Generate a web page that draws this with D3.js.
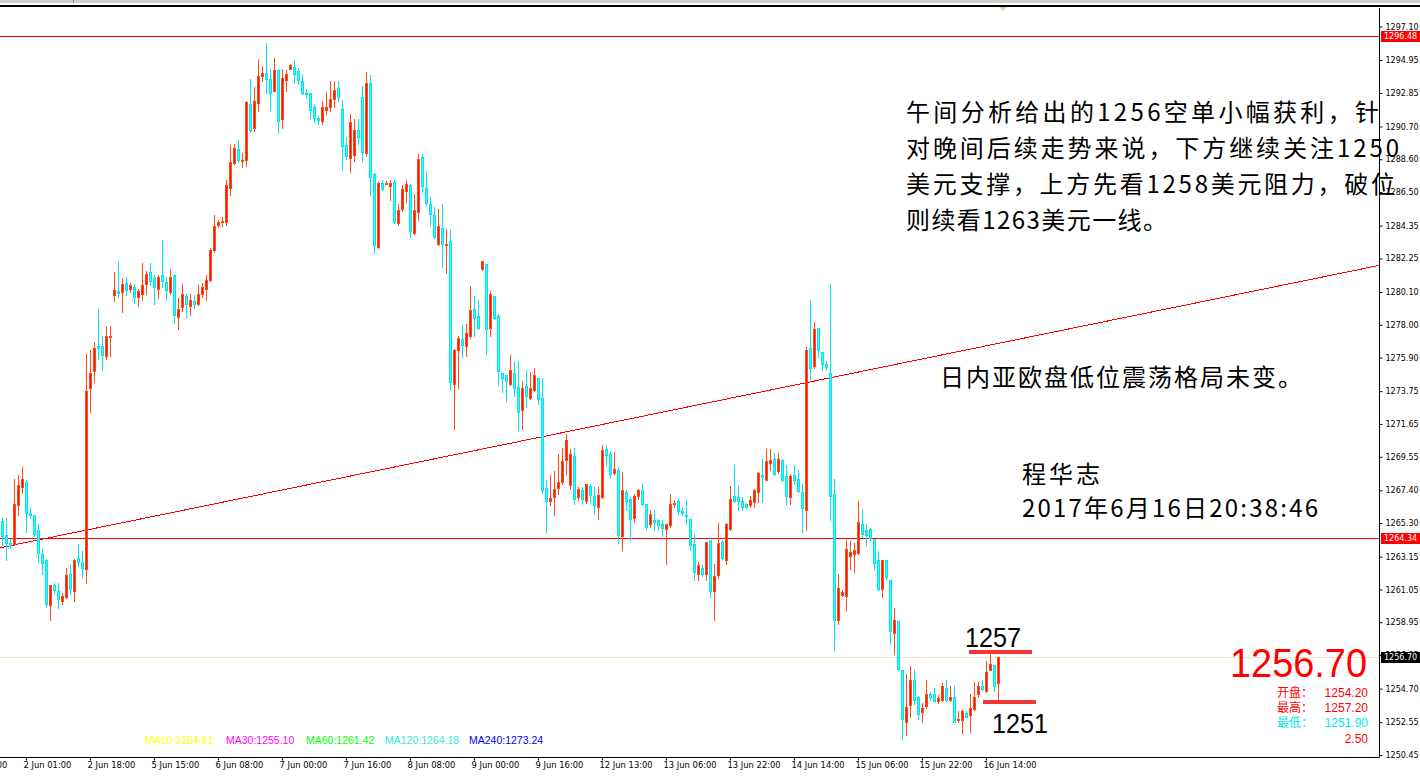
<!DOCTYPE html>
<html><head><meta charset="utf-8">
<script src="https://cdn.jsdelivr.net/npm/d3@7"></script>
<style>html,body{margin:0;padding:0;background:#fff;overflow:hidden}</style>
</head><body>
<svg id="c" width="1420" height="776"></svg>
<script>
// ---------- DATA (hourly XAUUSD bars) ----------
const opens = [
1265.41,1264.55,1264.00,1263.96,1266.47,1267.64,1267.93,1265.95,1265.80,1264.87,
1263.33,1262.91,1260.04,1261.32,1260.95,1260.34,1260.58,1262.05,1260.95,1263.08,
1262.78,1262.35,1273.94,1275.05,1276.64,1276.64,1276.02,1277.25,1279.90,1280.14,
1280.07,1280.68,1280.27,1280.44,1279.75,1280.00,1280.63,1281.37,1280.98,1280.32,
1281.17,1280.73,1280.07,1281.17,1278.48,1279.16,1279.83,1279.21,1279.55,1279.33,
1280.00,1280.32,1280.88,1282.77,1284.36,1284.60,1284.61,1286.76,1288.33,1289.26,
1288.50,1288.53,1292.13,1290.61,1292.21,1293.90,1294.12,1293.73,1292.99,1294.29,
1291.17,1293.68,1294.41,1294.49,1294.22,1293.63,1292.85,1292.82,1291.96,1291.27,
1291.03,1291.76,1291.96,1292.45,1293.14,1291.80,1289.50,1288.71,1288.90,1290.50,
1292.60,1289.00,1293.50,1287.64,1282.99,1287.09,1287.10,1286.90,1287.15,1284.52,
1285.44,1286.57,1286.94,1283.88,1285.23,1288.75,1286.79,1285.72,1285.01,1283.16,
1284.22,1283.09,1283.35,1274.19,1276.41,1277.07,1276.62,1277.26,1279.03,1278.54,
1281.55,1281.92,1277.82,1279.82,1278.54,1274.94,1274.76,1274.19,1274.94,1274.02,
1272.57,1274.06,1273.33,1273.80,1274.62,1273.33,1267.57,1266.71,1266.97,1267.55,
1267.93,1269.36,1267.76,1269.57,1266.97,1267.40,1266.71,1267.65,1267.01,1266.33,
1266.97,1270.04,1269.75,1268.50,1268.68,1264.45,1267.29,1266.86,1265.65,1267.01,
1267.44,1266.50,1265.26,1265.48,1265.48,1265.26,1264.90,1265.16,1266.50,1266.71,
1266.05,1265.84,1265.58,1263.98,1262.02,1262.44,1262.02,1264.24,1260.93,1261.95,
1264.09,1262.96,1264.94,1267.01,1266.97,1266.71,1266.50,1266.44,1266.65,1267.29,
1268.36,1268.08,1269.15,1269.42,1268.63,1269.36,1268.29,1266.97,1268.36,1268.14,
1267.29,1266.16,1276.54,1275.34,1277.82,1276.26,1275.50,1274.91,1267.18,1259.11,
1260.70,1260.60,1263.17,1263.34,1263.38,1265.26,1264.88,1264.94,1264.30,1262.91,
1261.09,1262.96,1261.67,1258.25,1259.03,1255.91,1252.56,1253.63,1255.27,1254.16,
1253.20,1253.56,1254.35,1254.33,1253.90,1253.95,1254.73,1253.99,1254.16,1252.66,
1252.71,1253.13,1252.98,1253.41,1254.37,1254.90,1254.54,1255.90,1256.19,1255.03];
const highs = [
1265.61,1265.61,1264.30,1268.13,1268.35,1268.87,1268.06,1266.30,1265.85,1265.24,
1263.65,1263.03,1261.36,1261.44,1261.49,1260.82,1262.42,1262.71,1262.98,1263.96,
1263.52,1276.15,1276.39,1276.88,1279.02,1277.25,1277.94,1277.94,1281.37,1282.03,
1280.98,1281.05,1280.68,1280.63,1280.32,1281.96,1281.42,1281.96,1281.17,1281.17,
1283.43,1281.05,1281.54,1281.22,1279.70,1280.63,1280.00,1279.95,1279.90,1280.56,
1280.68,1281.17,1282.90,1285.02,1284.68,1284.90,1287.25,1289.51,1289.56,1289.80,
1289.00,1292.33,1293.73,1293.24,1295.03,1294.60,1296.03,1294.41,1295.10,1294.41,
1294.41,1294.29,1294.71,1294.95,1294.46,1294.05,1293.10,1292.82,1292.13,1291.35,
1292.33,1292.89,1293.60,1293.60,1293.60,1292.40,1290.00,1291.50,1291.20,1291.20,
1293.30,1294.20,1294.00,1287.70,1287.15,1287.30,1287.20,1287.30,1287.26,1285.72,
1286.94,1287.30,1287.04,1286.40,1288.92,1288.92,1287.85,1286.19,1285.55,1285.44,
1285.76,1284.16,1284.09,1276.47,1277.26,1277.97,1278.03,1280.47,1279.83,1279.57,
1282.10,1281.92,1280.17,1279.82,1278.67,1274.94,1274.76,1276.04,1275.68,1275.68,
1274.40,1275.08,1274.98,1275.26,1274.62,1274.62,1268.08,1268.36,1268.63,1269.75,
1270.13,1271.03,1270.06,1270.13,1267.61,1267.61,1267.82,1267.78,1267.61,1267.61,
1270.28,1270.28,1269.85,1269.85,1268.89,1268.57,1267.44,1266.97,1267.14,1267.50,
1267.78,1266.54,1266.12,1266.16,1265.58,1265.48,1265.26,1267.14,1266.75,1266.86,
1266.30,1266.76,1265.58,1264.62,1262.80,1262.60,1264.09,1264.24,1262.70,1265.30,
1264.20,1265.30,1267.65,1269.00,1267.65,1266.97,1266.60,1267.01,1267.50,1268.57,
1269.42,1270.07,1270.07,1269.79,1269.79,1269.42,1268.99,1268.46,1268.99,1268.68,
1267.82,1276.58,1279.57,1278.18,1277.82,1276.26,1275.70,1280.64,1268.14,1262.06,
1261.00,1264.19,1264.15,1264.02,1266.71,1266.16,1265.26,1265.00,1264.30,1263.51,
1262.91,1262.96,1261.67,1259.88,1259.03,1255.91,1255.61,1256.12,1255.87,1254.20,
1253.78,1255.27,1254.50,1254.75,1254.30,1255.05,1255.23,1254.84,1254.84,1253.26,
1253.30,1253.26,1254.37,1255.12,1255.12,1255.27,1256.46,1257.14,1256.19,1256.75];
const lows = [
1263.89,1262.91,1263.70,1263.89,1265.85,1267.25,1264.75,1265.60,1264.50,1262.84,
1262.05,1259.97,1259.11,1260.82,1259.85,1260.14,1260.53,1260.78,1260.34,1262.54,
1261.86,1261.44,1272.42,1274.31,1275.78,1275.10,1275.78,1275.98,1279.50,1279.75,
1278.80,1279.90,1280.07,1279.41,1279.21,1279.58,1280.00,1280.56,1279.33,1279.70,
1280.44,1279.58,1279.95,1278.11,1277.74,1278.85,1278.48,1278.60,1279.10,1279.26,
1279.75,1279.58,1280.81,1282.69,1284.24,1284.30,1284.36,1286.32,1288.28,1288.41,
1288.10,1288.16,1290.37,1290.44,1291.67,1293.60,1292.82,1291.76,1292.94,1290.29,
1290.61,1292.94,1294.36,1293.48,1293.43,1292.75,1292.50,1291.27,1290.98,1290.83,
1290.86,1291.52,1291.71,1291.96,1292.33,1287.96,1288.60,1287.79,1288.50,1289.60,
1288.50,1288.80,1286.30,1282.60,1282.94,1286.60,1287.00,1285.97,1284.52,1284.37,
1285.29,1285.87,1283.63,1283.84,1284.69,1286.50,1285.65,1284.37,1283.58,1283.09,
1281.70,1281.32,1273.80,1271.35,1273.97,1275.94,1275.98,1277.18,1277.26,1277.75,
1281.50,1276.11,1277.26,1278.40,1274.12,1273.70,1273.12,1274.12,1273.42,1271.29,
1271.35,1272.73,1273.27,1273.76,1272.91,1267.23,1264.67,1266.44,1265.80,1267.18,
1267.82,1268.46,1267.50,1266.54,1266.76,1266.50,1266.58,1266.50,1265.90,1265.58,
1266.93,1269.00,1268.21,1268.46,1264.02,1263.59,1266.12,1264.19,1265.37,1266.86,
1266.44,1264.94,1265.05,1264.84,1264.88,1264.45,1262.70,1265.05,1266.30,1265.90,
1265.80,1265.26,1263.55,1261.63,1261.63,1261.90,1261.63,1260.56,1259.07,1261.80,
1263.00,1262.70,1264.84,1266.65,1266.16,1266.12,1266.25,1266.33,1266.33,1266.65,
1266.65,1268.08,1268.68,1268.36,1268.50,1267.99,1266.50,1266.50,1267.82,1267.29,
1264.73,1264.83,1274.55,1275.25,1275.94,1275.08,1275.10,1265.48,1257.19,1258.85,
1260.60,1259.71,1262.38,1262.17,1263.34,1264.41,1263.87,1264.20,1262.38,1260.99,
1260.56,1261.74,1257.53,1256.93,1255.87,1251.49,1251.74,1252.88,1253.73,1252.77,
1252.54,1253.48,1254.00,1253.84,1253.80,1253.90,1253.90,1253.90,1252.56,1252.56,
1251.86,1252.88,1251.92,1253.35,1254.16,1254.63,1254.48,1255.87,1254.58,1253.83];
const closes = [
1264.50,1264.00,1263.90,1266.54,1267.76,1268.10,1265.97,1265.85,1264.63,1263.40,
1262.74,1260.14,1261.32,1261.02,1260.46,1260.63,1262.00,1261.07,1262.96,1262.84,
1262.42,1273.75,1274.92,1276.52,1276.52,1276.07,1277.30,1277.30,1280.24,1280.04,
1280.63,1280.24,1280.54,1279.75,1280.14,1280.56,1281.25,1280.81,1280.44,1281.05,
1280.81,1280.24,1281.05,1278.60,1279.02,1279.95,1279.33,1279.58,1279.35,1279.95,
1280.44,1280.88,1282.77,1284.31,1284.61,1284.65,1286.93,1288.41,1289.31,1288.53,
1288.55,1292.25,1290.49,1292.33,1293.92,1294.10,1293.75,1292.82,1294.29,1291.03,
1293.80,1294.05,1294.66,1294.05,1293.68,1292.82,1292.80,1291.76,1291.22,1291.10,
1291.96,1291.96,1292.45,1293.06,1292.57,1289.43,1288.80,1291.00,1290.50,1290.00,
1289.07,1293.50,1287.47,1283.09,1287.09,1286.72,1287.10,1287.09,1284.59,1285.33,
1286.72,1287.04,1284.01,1285.33,1288.60,1286.89,1285.80,1285.12,1283.63,1284.31,
1283.20,1283.20,1274.34,1276.41,1277.15,1276.73,1277.48,1278.93,1278.46,1277.80,
1282.07,1277.75,1279.95,1278.46,1275.04,1274.62,1274.40,1275.08,1273.97,1272.42,
1273.97,1273.42,1273.97,1274.76,1273.27,1267.44,1266.69,1266.90,1267.46,1267.93,
1269.25,1270.60,1269.70,1266.86,1267.46,1266.82,1267.78,1267.08,1266.48,1267.08,
1269.96,1269.64,1268.46,1268.78,1264.52,1267.40,1266.71,1265.58,1267.01,1267.40,
1266.54,1265.05,1265.86,1265.37,1265.16,1265.01,1265.26,1266.54,1266.60,1266.07,
1265.95,1265.73,1263.87,1262.17,1262.59,1262.02,1264.09,1260.93,1261.89,1264.02,
1263.08,1265.22,1266.86,1266.71,1266.71,1266.33,1266.33,1266.76,1267.44,1268.50,
1268.25,1269.28,1269.36,1268.46,1269.42,1268.08,1267.01,1268.29,1268.04,1267.35,
1266.29,1276.41,1275.25,1277.75,1276.37,1275.47,1275.30,1267.01,1259.11,1261.16,
1260.90,1263.66,1263.45,1263.60,1265.37,1264.62,1264.52,1264.36,1262.74,1261.09,
1262.91,1261.84,1258.38,1259.11,1255.97,1252.77,1253.52,1255.23,1253.99,1253.09,
1253.48,1254.33,1254.15,1253.90,1254.10,1254.84,1253.95,1254.16,1252.56,1252.77,
1253.26,1252.88,1253.48,1254.16,1254.84,1254.69,1255.76,1256.29,1254.90,1256.70];

const priceTicks = [1297.10,1294.95,1292.85,1290.70,1288.60,1286.50,1284.35,1282.25,1280.10,1278.00,
  1275.90,1273.75,1271.65,1269.55,1267.40,1265.30,1263.15,1261.05,1258.95,1256.85,1254.70,1252.55,1250.45];
const timeTickBars = [-10,6,22,38,54,70,86,102,118,134,150,166,182,198,214,230,246];
const timeTickLabels = ["1 Jun 09:00","2 Jun 01:00","2 Jun 18:00","5 Jun 15:00","6 Jun 08:00","7 Jun 00:00",
  "7 Jun 16:00","8 Jun 08:00","9 Jun 00:00","9 Jun 16:00","12 Jun 13:00","13 Jun 06:00","13 Jun 22:00",
  "14 Jun 14:00","15 Jun 06:00","15 Jun 22:00","16 Jun 14:00"];
const levelLines = [1296.48, 1264.34];
const bidPrice = 1256.70;
const trendBars = [-0.5, 344.25];
const trendPrices = [1263.72, 1281.80];
const markBars = [[241.75,257.5],[245.25,258.5]];
const markPrices = [1257.04, 1253.83];
const markLabels = ["1257","1251"];
const maNames = ["MA10","MA30","MA60","MA120","MA240"];
const maValues = ["1254.61","1255.10","1261.42","1264.18","1273.24"];
const maColors = ["#ffff00","#ff00ff","#00ff00","#33e6e6","#0000ee"];
const infoNames = ["开盘：","最高：","最低："];
const infoValues = ["1254.20","1257.20","1251.90"];
const infoColors = ["#ff0000","#ff0000","#00e8f0"];
const spreadValue = "2.50";
const noteLines = ["午间分析给出的1256空单小幅获利，针","对晚间后续走势来说，下方继续关注1250",
  "美元支撑，上方先看1258美元阻力，破位","则续看1263美元一线。"];
const noteMid = "日内亚欧盘低位震荡格局未变。";
const author = "程华志";
const stamp = "2017年6月16日20:38:46";

// ---------- LAYOUT ----------
const W = 1420, H = 776;
const plotL = 0, plotR = 1379, plotT = 8, plotB = 757;
const svg = d3.select("#c");
svg.append("rect").attr("width", W).attr("height", H).attr("fill", "#fff");

const x = d3.scaleLinear().domain([0, 249]).range([2, 998]);
const y = d3.scaleLinear().domain([1250.45, 1297.10]).range([755, 26.5]);

// top frame strip
svg.append("rect").attr("x",0).attr("y",0).attr("width",W).attr("height",3).attr("fill","#d4d0c8");
svg.append("line").attr("x1",73.5).attr("x2",73.5).attr("y1",0).attr("y2",3).attr("stroke","#808080");
svg.append("rect").attr("x",0).attr("y",5).attr("width",W).attr("height",2).attr("fill","#000");

svg.append("defs").append("clipPath").attr("id","plot")
  .append("rect").attr("x",plotL).attr("y",plotT).attr("width",plotR-plotL).attr("height",plotB-plotT);

const g = svg.append("g").attr("clip-path","url(#plot)").attr("shape-rendering","crispEdges");

// bid line
g.append("line").attr("x1",plotL).attr("x2",plotR)
  .attr("y1",Math.round(y(bidPrice))+0.5).attr("y2",Math.round(y(bidPrice))+0.5)
  .attr("stroke","#ebe6c3").attr("stroke-width",1);

// level lines
g.selectAll("line.lvl").data(levelLines).join("line").attr("class","lvl")
  .attr("x1",plotL).attr("x2",plotR)
  .attr("y1",d=>Math.round(y(d))+0.5).attr("y2",d=>Math.round(y(d))+0.5)
  .attr("stroke","#ff0000").attr("stroke-width",1);

// trend line
g.append("line")
  .attr("x1",x(trendBars[0])).attr("y1",y(trendPrices[0]))
  .attr("x2",x(trendBars[1])).attr("y2",y(trendPrices[1]))
  .attr("stroke","#ff0000").attr("stroke-width",1);

// candles
const bars = d3.range(opens.length).map(i => ({i, o:opens[i], h:highs[i], l:lows[i], c:closes[i]}));
const cg = g.selectAll("g.bar").data(bars).join("g").attr("class","bar");
cg.append("line")
  .attr("x1",d=>Math.round(x(d.i))+0.5).attr("x2",d=>Math.round(x(d.i))+0.5)
  .attr("y1",d=>Math.round(y(d.h))).attr("y2",d=>Math.round(y(d.l))+1)
  .attr("stroke",d=>d.c>=d.o?"#ff4a1a":"#00e4ee").attr("stroke-width",1);
cg.append("rect")
  .attr("x",d=>Math.round(x(d.i))-1).attr("width",3)
  .attr("y",d=>Math.round(y(Math.max(d.o,d.c))))
  .attr("height",d=>Math.max(2, Math.round(y(Math.min(d.o,d.c)))-Math.round(y(Math.max(d.o,d.c)))+1))
  .attr("fill",d=>d.c>=d.o?"#ff4a1a":"#00e4ee");
cg.append("rect")
  .attr("x",d=>Math.round(x(d.i))).attr("width",1)
  .attr("y",d=>Math.round(y(Math.max(d.o,d.c)))+1)
  .attr("height",d=>Math.max(0, Math.round(y(Math.min(d.o,d.c)))-Math.round(y(Math.max(d.o,d.c)))-1))
  .attr("fill",d=>d.c>=d.o?"#ff1400":"#3ef6ff");

// high/low marker bars
g.selectAll("line.mark").data(markPrices).join("line").attr("class","mark")
  .attr("x1",(d,k)=>x(markBars[k][0])).attr("x2",(d,k)=>x(markBars[k][1]))
  .attr("y1",d=>y(d)).attr("y2",d=>y(d))
  .attr("stroke","#f0383a").attr("stroke-width",3.5);

// ---------- AXES ----------
const yAxis = d3.axisRight(y).tickValues(priceTicks).tickSize(3).tickPadding(3)
  .tickFormat(d=>d.toFixed(2));
const ya = svg.append("g").attr("transform",`translate(${plotR+0.5},0)`).call(yAxis);
ya.select(".domain").remove();
ya.selectAll("text").attr("font-family","DejaVu Sans").attr("font-size","8px").attr("fill","#000");
ya.selectAll("line").attr("stroke","#000");
svg.append("line").attr("x1",plotR+0.5).attr("x2",plotR+0.5).attr("y1",plotT).attr("y2",plotB+0.5)
  .attr("stroke","#000");

const xAxis = d3.axisBottom(x).tickValues(timeTickBars).tickSize(3).tickPadding(2)
  .tickFormat((d,k)=>timeTickLabels[k]);
const xa = svg.append("g").attr("transform",`translate(0,${plotB+0.5})`).call(xAxis);
xa.select(".domain").remove();
xa.selectAll("text").attr("font-family","DejaVu Sans").attr("font-size","8.4px").attr("fill","#000")
  .attr("text-anchor","start").attr("dx","-3");
xa.selectAll("line").attr("stroke","#000");
svg.append("line").attr("x1",0).attr("x2",plotR+0.5).attr("y1",plotB+0.5).attr("y2",plotB+0.5)
  .attr("stroke","#000");

// axis price labels
const axisTags = [{p:levelLines[0],bg:"#ff0000"},{p:levelLines[1],bg:"#ff0000"},{p:bidPrice,bg:"#000"}];
const tg = svg.selectAll("g.tag").data(axisTags).join("g").attr("class","tag");
tg.append("rect").attr("x",plotR+2).attr("width",W-plotR-2)
  .attr("y",d=>Math.round(y(d.p))-5).attr("height",11).attr("fill",d=>d.bg);
tg.append("text").attr("x",plotR+5).attr("y",d=>y(d.p)).attr("dy","0.35em")
  .attr("font-family","DejaVu Sans").attr("font-size","8px").attr("fill","#fff")
  .text(d=>d.p.toFixed(2));

// shift marker
svg.append("path").attr("d","M999,7 L1007,7 L1003,11 Z").attr("fill","#d9d2a6");

// ---------- TEXTS ----------
const cjk = "'Noto Sans CJK SC','Noto Sans',sans-serif";
const noteLens = [473, 493, 489, 261];
svg.selectAll("text.note").data(noteLines).join("text").attr("class","note")
  .attr("x",906).attr("y",(d,k)=>112+36*k).attr("dy","0.36em")
  .attr("font-family",cjk).attr("font-size","24px").attr("fill","#000")
  .attr("textLength",(d,k)=>noteLens[k]).attr("lengthAdjust","spacing")
  .text(d=>d);
svg.append("text").attr("x",940).attr("y",377).attr("dy","0.36em")
  .attr("font-family",cjk).attr("font-size","24px").attr("textLength",362).attr("lengthAdjust","spacing")
  .text(noteMid);
svg.append("text").attr("x",1022).attr("y",474).attr("dy","0.36em")
  .attr("font-family",cjk).attr("font-size","24px").attr("textLength",78).attr("lengthAdjust","spacing")
  .text(author);
svg.append("text").attr("x",1022).attr("y",508).attr("dy","0.36em")
  .attr("font-family",cjk).attr("font-size","24px").attr("textLength",296).attr("lengthAdjust","spacing")
  .text(stamp);

// marker labels
svg.append("text").attr("x",965).attr("y",647).attr("font-family","Liberation Sans")
  .attr("font-size","27px").attr("textLength",56).attr("lengthAdjust","spacingAndGlyphs").text(markLabels[0]);
svg.append("text").attr("x",992).attr("y",733).attr("font-family","Liberation Sans")
  .attr("font-size","27px").attr("textLength",56).attr("lengthAdjust","spacingAndGlyphs").text(markLabels[1]);

// big price
svg.append("text").attr("x",1367).attr("y",677).attr("text-anchor","end")
  .attr("font-family","Liberation Sans").attr("font-size","40px").attr("fill","#ff0000")
  .attr("textLength",137).attr("lengthAdjust","spacingAndGlyphs")
  .text(bidPrice.toFixed(2));

// info rows
const rowsY = [693, 708, 723];
infoNames.forEach((nm,k)=>{
  svg.append("text").attr("x",1277).attr("y",rowsY[k]).attr("dy","0.36em")
    .attr("font-family",cjk).attr("font-size","12px").attr("fill",infoColors[k]).text(nm);
  svg.append("text").attr("x",1368).attr("y",rowsY[k]).attr("dy","0.36em").attr("text-anchor","end")
    .attr("font-family","Liberation Sans").attr("font-size","12px").attr("fill",infoColors[k]).text(infoValues[k]);
});
svg.append("text").attr("x",1368).attr("y",739).attr("dy","0.36em").attr("text-anchor","end")
  .attr("font-family","Liberation Sans").attr("font-size","12px").attr("fill","#ff0000").text(spreadValue);

// MA legend
const maX = [145, 226, 306, 385, 469];
maNames.forEach((nm,k)=>{
  svg.append("text").attr("x",maX[k]).attr("y",740.5).attr("dy","0.35em")
    .attr("font-family","Liberation Sans").attr("font-size","10.5px").attr("fill",maColors[k])
    .text(nm+":"+maValues[k]);
});
</script>
</body></html>
